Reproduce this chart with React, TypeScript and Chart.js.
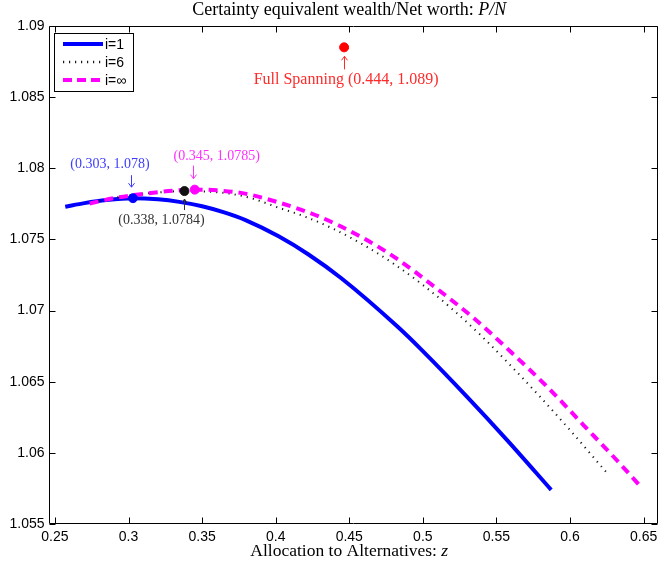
import { useEffect, useRef } from "react";
import { Chart, registerables } from "chart.js";

Chart.register(...registerables);

// ---- data ----
const xTickValues = [0.25, 0.3, 0.35, 0.4, 0.45, 0.5, 0.55, 0.6, 0.65];
const xTickLabels = ["0.25", "0.3", "0.35", "0.4", "0.45", "0.5", "0.55", "0.6", "0.65"];
const yTickValues = [1.055, 1.06, 1.065, 1.07, 1.075, 1.08, 1.085, 1.09];
const yTickLabels = ["1.055", "1.06", "1.065", "1.07", "1.075", "1.08", "1.085", "1.09"];

const seriesLabels = ["i=1", "i=6", "i=\u221E"];

const blueX = [0.257, 0.27, 0.285, 0.303, 0.32, 0.3345, 0.35, 0.365, 0.3795, 0.402, 0.4223, 0.4446, 0.4831, 0.5, 0.5304, 0.5574, 0.5872];
const blueY = [1.0773, 1.07755, 1.07777, 1.0779, 1.07782, 1.07764, 1.07733, 1.0769, 1.07636, 1.07522, 1.07394, 1.07227, 1.06884, 1.06715, 1.0639, 1.06088, 1.0574];

const blackX = [0.28, 0.3, 0.32, 0.338, 0.355, 0.37, 0.385, 0.4, 0.42, 0.44, 0.46, 0.48, 0.5, 0.52, 0.54, 0.56, 0.58, 0.6, 0.625];
const blackY = [1.0777, 1.0781, 1.0783, 1.0784, 1.07835, 1.0782, 1.07785, 1.0773, 1.0766, 1.0757, 1.0746, 1.0733, 1.0718, 1.0701, 1.0682, 1.0661, 1.0639, 1.0616, 1.0586];

const pinkX = [0.2736, 0.29, 0.31, 0.33, 0.345, 0.36, 0.38, 0.402, 0.4223, 0.4426, 0.4628, 0.482, 0.5079, 0.5349, 0.5597, 0.5845, 0.6093, 0.6318, 0.6486];
const pinkY = [1.07753, 1.0779, 1.0782, 1.07842, 1.0785, 1.07845, 1.0782, 1.0776, 1.0769, 1.076, 1.0749, 1.07367, 1.07167, 1.06944, 1.0671, 1.06464, 1.06194, 1.05948, 1.05756];

const optimaX = [0.303, 0.338, 0.345];
const optimaY = [1.0779, 1.0784, 1.0785];
const optimaLabels = ["(0.303, 1.078)", "(0.338, 1.0784)", "(0.345, 1.0785)"];

const spanX = [0.4465];
const spanY = [1.0885];
const spanLabel = "Full Spanning (0.444, 1.089)";

const titleMain = "Certainty equivalent wealth/Net worth: ";
const titleMath = "P/N";
const xTitleMain = "Allocation to Alternatives: ";
const xTitleMath = "z";

const BLUE = "#0000ff";
const MAGENTA = "#ff00ff";
const BLACK = "#1a1a1a";
const RED = "#ff0000";

const toPts = (xs: number[], ys: number[]) => xs.map((x, i) => ({ x, y: ys[i] }));

function arrow(ctx: CanvasRenderingContext2D, x: number, yTail: number, yTip: number, color: string) {
  const dir = yTip > yTail ? 1 : -1;
  ctx.save();
  ctx.strokeStyle = color;
  ctx.lineWidth = 1;
  ctx.beginPath();
  ctx.moveTo(x, yTail);
  ctx.lineTo(x, yTip);
  ctx.moveTo(x - 3, yTip - dir * 4);
  ctx.lineTo(x, yTip);
  ctx.lineTo(x + 3, yTip - dir * 4);
  ctx.stroke();
  ctx.restore();
}

const decorPlugin = {
  id: "decor",
  afterDatasetsDraw(chart: any) {
    const { ctx, chartArea: a, scales } = chart;
    const xs = scales.x;
    const ys = scales.y;
    ctx.save();

    // axes box
    ctx.strokeStyle = "#000";
    ctx.lineWidth = 1;
    const L = Math.round(a.left) + 0.5;
    const B = Math.round(a.bottom) - 0.5;
    const T = Math.round(a.top) + 0.5;
    const R = Math.round(a.right) - 0.5;
    ctx.beginPath();
    ctx.moveTo(L, T);
    ctx.lineTo(L, B);
    ctx.lineTo(R, B);
    ctx.lineTo(R, T);
    ctx.closePath();
    ctx.stroke();

    // inside ticks
    const tl = 6;
    ctx.beginPath();
    xTickValues.forEach((v) => {
      const px = Math.round(xs.getPixelForValue(v)) + 0.5;
      ctx.moveTo(px, B);
      ctx.lineTo(px, B - tl);
      ctx.moveTo(px, T);
      ctx.lineTo(px, T + tl);
    });
    yTickValues.forEach((v) => {
      const py = Math.round(ys.getPixelForValue(v)) + 0.5;
      ctx.moveTo(L, py);
      ctx.lineTo(L + tl, py);
      ctx.moveTo(R, py);
      ctx.lineTo(R - tl, py);
    });
    ctx.stroke();

    // annotations
    ctx.textAlign = "center";
    ctx.textBaseline = "middle";
    const annFont = "14px 'Liberation Serif'";
    const pt = (i: number) => ({ x: xs.getPixelForValue(optimaX[i]), y: ys.getPixelForValue(optimaY[i]) });

    // blue
    let p = pt(0);
    ctx.fillStyle = "#3c3cff";
    ctx.font = annFont;
    ctx.fillText(optimaLabels[0], p.x - 23, p.y - 34);
    arrow(ctx, Math.round(p.x - 2) + 0.5, p.y - 23, p.y - 11, "#3c3cff");

    // black
    p = pt(1);
    ctx.fillStyle = "#333333";
    ctx.font = annFont;
    ctx.fillText(optimaLabels[1], p.x - 23, p.y + 29);
    arrow(ctx, Math.round(p.x) + 0.5, p.y + 19, p.y + 8, "#333333");

    // magenta
    p = pt(2);
    ctx.fillStyle = "#ff30ff";
    ctx.font = annFont;
    ctx.fillText(optimaLabels[2], p.x + 22, p.y - 33);
    arrow(ctx, Math.round(p.x - 2) + 0.5, p.y - 24, p.y - 11, "#ff30ff");

    // full spanning
    const sx = xs.getPixelForValue(spanX[0]);
    const sy = ys.getPixelForValue(spanY[0]);
    ctx.fillStyle = "#ff2a2a";
    arrow(ctx, Math.round(sx) + 0.5, sy + 22, sy + 9, "#ff2a2a");
    ctx.font = "16px 'Liberation Serif'";
    ctx.fillText(spanLabel, sx + 2, sy + 32);

    ctx.restore();
  },
  afterDraw(chart: any) {
    const { ctx, chartArea: a } = chart;
    ctx.save();

    // titles
    const cx = (a.left + a.right) / 2 - 4;
    ctx.fillStyle = "#000";
    ctx.textBaseline = "middle";
    ctx.textAlign = "left";
    const drawMixed = (main: string, math: string, size: number, yPos: number) => {
      ctx.font = `${size}px 'Liberation Serif'`;
      const w1 = ctx.measureText(main).width;
      ctx.font = `italic ${size}px 'Liberation Serif'`;
      const w2 = ctx.measureText(math).width;
      const x0 = cx - (w1 + w2) / 2;
      ctx.font = `${size}px 'Liberation Serif'`;
      ctx.fillText(main, x0, yPos);
      ctx.font = `italic ${size}px 'Liberation Serif'`;
      ctx.fillText(math, x0 + w1, yPos);
    };
    drawMixed(titleMain, titleMath, 18, 10);
    drawMixed(xTitleMain, xTitleMath, 17.5, 551);

    // legend
    const bx = 54.5, by = 33.5, bw = 79, bh = 58;
    ctx.fillStyle = "#fff";
    ctx.fillRect(bx, by, bw, bh);
    ctx.strokeStyle = "#000";
    ctx.lineWidth = 1;
    ctx.strokeRect(bx, by, bw, bh);
    const rows = [44, 62, 80];
    const styles = [
      { c: BLUE, w: 4, d: [] as number[] },
      { c: BLACK, w: 2.5, d: [1.2, 4.8] },
      { c: MAGENTA, w: 4, d: [9, 5] },
    ];
    rows.forEach((ry, i) => {
      ctx.beginPath();
      ctx.strokeStyle = styles[i].c;
      ctx.lineWidth = styles[i].w;
      ctx.setLineDash(styles[i].d);
      ctx.moveTo(63, ry);
      ctx.lineTo(103, ry);
      ctx.stroke();
      ctx.setLineDash([]);
      ctx.fillStyle = "#000";
      ctx.font = "14px 'Liberation Sans'";
      ctx.textAlign = "left";
      ctx.fillText(seriesLabels[i], 105, ry + 1);
    });

    ctx.restore();
  },
};

export default function App() {
  const ref = useRef<HTMLCanvasElement | null>(null);

  useEffect(() => {
    document.body.style.margin = "0";
    if (!ref.current) return;
    const chart = new Chart(ref.current, {
      type: "scatter",
      data: {
        datasets: [
          {
            label: "Full Spanning",
            data: toPts(spanX, spanY),
            pointRadius: 4.5,
            pointBackgroundColor: RED,
            pointBorderColor: RED,
            showLine: false,
          },
          {
            label: "opt i=inf",
            data: toPts([optimaX[2]], [optimaY[2]]),
            pointRadius: 4.5,
            pointBackgroundColor: MAGENTA,
            pointBorderColor: MAGENTA,
            showLine: false,
          },
          {
            label: "opt i=6",
            data: toPts([optimaX[1]], [optimaY[1]]),
            pointRadius: 4.5,
            pointBackgroundColor: "#111",
            pointBorderColor: "#111",
            showLine: false,
          },
          {
            label: "opt i=1",
            data: toPts([optimaX[0]], [optimaY[0]]),
            pointRadius: 4.5,
            pointBackgroundColor: BLUE,
            pointBorderColor: BLUE,
            showLine: false,
          },
          {
            label: seriesLabels[2],
            data: toPts(pinkX, pinkY),
            showLine: true,
            borderColor: MAGENTA,
            borderWidth: 4,
            borderDash: [9, 6],
            pointRadius: 0,
            cubicInterpolationMode: "monotone",
          },
          {
            label: seriesLabels[1],
            data: toPts(blackX, blackY),
            showLine: true,
            borderColor: BLACK,
            borderWidth: 2,
            borderDash: [1.2, 5],
            pointRadius: 0,
            cubicInterpolationMode: "monotone",
          },
          {
            label: seriesLabels[0],
            data: toPts(blueX, blueY),
            showLine: true,
            borderColor: BLUE,
            borderWidth: 4,
            pointRadius: 0,
            cubicInterpolationMode: "monotone",
          },
        ],
      },
      options: {
        responsive: false,
        animation: false,
        devicePixelRatio: 1,
        layout: { padding: { top: 26, right: 2, left: 0, bottom: 0 } },
        plugins: {
          legend: { display: false },
          title: { display: false },
          tooltip: { enabled: false },
        },
        events: [],
        scales: {
          x: {
            type: "linear",
            min: 0.24595,
            max: 0.65946,
            grid: { display: false, drawTicks: false },
            border: { display: false },
            afterBuildTicks: (s: any) => {
              s.ticks = xTickValues.map((v) => ({ value: v }));
            },
            afterFit: (s: any) => {
              s.height = 45;
            },
            ticks: {
              color: "#000",
              padding: 5,
              maxRotation: 0,
              autoSkip: false,
              font: { family: "'Liberation Sans'", size: 14 },
              callback: (_v: any, i: number) => xTickLabels[i],
            },
          },
          y: {
            type: "linear",
            min: 1.055,
            max: 1.09,
            grid: { display: false, drawTicks: false },
            border: { display: false },
            afterBuildTicks: (s: any) => {
              s.ticks = yTickValues.map((v) => ({ value: v }));
            },
            afterFit: (s: any) => {
              s.width = 49;
            },
            ticks: {
              color: "#000",
              padding: 4.5,
              autoSkip: false,
              font: { family: "'Liberation Sans'", size: 14 },
              callback: (_v: any, i: number) => yTickLabels[i],
            },
          },
        },
      },
      plugins: [decorPlugin],
    });
    return () => chart.destroy();
  }, []);

  return (
    <div style={{ position: "absolute", left: 0, top: 0, width: 660, height: 569, overflow: "hidden", background: "#fff" }}>
      <canvas ref={ref} width={663} height={569} style={{ display: "block" }} />
    </div>
  );
}
